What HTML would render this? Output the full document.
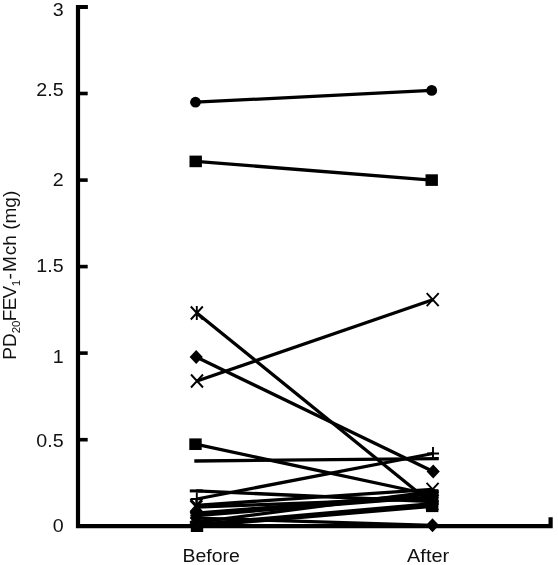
<!DOCTYPE html>
<html><head><meta charset="utf-8"><title>PD20FEV1-Mch before and after</title>
<style>
html,body{margin:0;padding:0;background:#fff}
svg{display:block}
text{font-family:"Liberation Sans",sans-serif;font-size:18.3px;fill:#111}
</style></head><body>
<svg width="558" height="565" viewBox="0 0 558 565">
<rect width="558" height="565" fill="#fff"/>
<g stroke="#000" stroke-width="4.2" fill="none">
<path d="M87.7 7H78V526.2H550.6V517.3" stroke-linejoin="miter"/>
</g>
<g stroke="#000" stroke-width="3.6"><line x1="78" y1="439.7" x2="87.7" y2="439.7"/><line x1="78" y1="353.1" x2="87.7" y2="353.1"/><line x1="78" y1="266.6" x2="87.7" y2="266.6"/><line x1="78" y1="180.1" x2="87.7" y2="180.1"/><line x1="78" y1="93.5" x2="87.7" y2="93.5"/><line x1="78" y1="7.0" x2="87.7" y2="7.0"/></g>
<g stroke="#000" stroke-width="3.3" stroke-linecap="butt">
<line x1="195.5" y1="102.2" x2="431.7" y2="90.4"/>
<line x1="195.7" y1="161.4" x2="431.7" y2="180.1"/>
<line x1="196.8" y1="313.0" x2="432.2" y2="503.7"/>
<line x1="196.2" y1="356.9" x2="433.2" y2="471.5"/>
<line x1="197.0" y1="381.0" x2="432.7" y2="299.7"/>
<line x1="195.5" y1="444.2" x2="432.2" y2="495.0"/>
<line x1="194.3" y1="461.0" x2="438.8" y2="458.7"/>
<line x1="196.3" y1="490.9" x2="432.2" y2="501.5"/>
<line x1="196.8" y1="499.0" x2="433.0" y2="453.5"/>
<line x1="196.3" y1="505.3" x2="432.6" y2="489.3"/>
<line x1="196.3" y1="507.0" x2="432.2" y2="498.5"/>
<line x1="196.3" y1="513.2" x2="432.2" y2="494.2"/>
<line x1="196.3" y1="515.5" x2="432.2" y2="496.8"/>
<line x1="196.3" y1="518.1" x2="432.5" y2="525.3"/>
<line x1="196.3" y1="522.4" x2="432.2" y2="491.6"/>
<line x1="196.3" y1="524.5" x2="432.2" y2="503.7"/>
<line x1="197.0" y1="526.2" x2="432.2" y2="506.3"/>
</g>
<g fill="#000">
<circle cx="195.5" cy="102.2" r="5.4"/>
<circle cx="431.7" cy="90.4" r="5.4"/>
<rect x="189.5" y="155.6" width="12.4" height="11.6"/>
<rect x="425.5" y="174.3" width="12.4" height="11.6"/>
<path stroke="#000" stroke-width="1.9" fill="none" d="M190.8 306.5L202.8 319.5M202.8 306.5L190.8 319.5M196.8 306.0L196.8 320.0"/>
<path stroke="#000" stroke-width="1.9" fill="none" d="M426.2 497.2L438.2 510.2M438.2 497.2L426.2 510.2M432.2 496.7L432.2 510.7"/>
<path d="M196.2 349.9L202.8 356.9L196.2 363.9L189.6 356.9Z"/>
<path d="M433.2 464.5L439.8 471.5L433.2 478.5L426.6 471.5Z"/>
<path stroke="#000" stroke-width="1.9" fill="none" d="M191.0 374.5L203.0 387.5M203.0 374.5L191.0 387.5"/>
<path stroke="#000" stroke-width="1.9" fill="none" d="M426.7 293.2L438.7 306.2M438.7 293.2L426.7 306.2"/>
<rect x="189.3" y="438.4" width="12.4" height="11.6"/>
<rect x="426.0" y="489.2" width="12.4" height="11.6"/>
<path stroke="#000" stroke-width="3" fill="none" d="M189.8 490.9L202.8 490.9"/>
<path stroke="#000" stroke-width="3" fill="none" d="M425.7 501.5L438.7 501.5"/>
<path stroke="#000" stroke-width="1.9" fill="none" d="M190.8 499.0L202.8 499.0M196.8 492.5L196.8 505.5"/>
<path stroke="#000" stroke-width="1.9" fill="none" d="M427.0 453.5L439.0 453.5M433.0 447.0L433.0 460.0"/>
<path stroke="#000" stroke-width="1.9" fill="none" d="M190.3 498.8L202.3 511.8M202.3 498.8L190.3 511.8"/>
<path stroke="#000" stroke-width="1.9" fill="none" d="M426.6 482.8L438.6 495.8M438.6 482.8L426.6 495.8"/>
<path stroke="#000" stroke-width="1.9" fill="none" d="M190.3 500.5L202.3 513.5M202.3 500.5L190.3 513.5M196.3 500.0L196.3 514.0"/>
<path stroke="#000" stroke-width="1.9" fill="none" d="M426.2 492.0L438.2 505.0M438.2 492.0L426.2 505.0M432.2 491.5L432.2 505.5"/>
<circle cx="196.3" cy="513.2" r="5.4"/>
<circle cx="432.2" cy="494.2" r="5.4"/>
<path stroke="#000" stroke-width="1.9" fill="none" d="M190.3 515.5L202.3 515.5M196.3 509.0L196.3 522.0"/>
<path stroke="#000" stroke-width="1.9" fill="none" d="M426.2 496.8L438.2 496.8M432.2 490.3L432.2 503.3"/>
<path d="M196.3 511.1L202.9 518.1L196.3 525.1L189.7 518.1Z"/>
<path d="M432.5 518.3L439.1 525.3L432.5 532.3L425.9 525.3Z"/>
<path stroke="#000" stroke-width="3" fill="none" d="M189.8 522.4L202.8 522.4"/>
<path stroke="#000" stroke-width="3" fill="none" d="M425.7 491.6L438.7 491.6"/>
<path d="M196.3 517.5L202.9 524.5L196.3 531.5L189.7 524.5Z"/>
<path d="M432.2 496.7L438.8 503.7L432.2 510.7L425.6 503.7Z"/>
<rect x="190.8" y="520.4" width="12.4" height="11.6"/>
<rect x="426.0" y="500.5" width="12.4" height="11.6"/>
</g>
<g><text transform="translate(63.7 16.4) scale(1.075 1)" text-anchor="end">3</text><text transform="translate(63.7 96.1) scale(1.075 1)" text-anchor="end">2.5</text><text transform="translate(63.7 186.2) scale(1.075 1)" text-anchor="end">2</text><text transform="translate(63.7 272.0) scale(1.075 1)" text-anchor="end">1.5</text><text transform="translate(63.7 362.7) scale(1.075 1)" text-anchor="end">1</text><text transform="translate(63.7 447.4) scale(1.075 1)" text-anchor="end">0.5</text><text transform="translate(63.7 531.8) scale(1.075 1)" text-anchor="end">0</text></g>
<text transform="translate(211.2 562.0) scale(1.065 1)" text-anchor="middle" id="before">Before</text>
<text transform="translate(428.1 562.4) scale(1.09 1)" text-anchor="middle" id="after">After</text>
<text id="ylab" transform="translate(16.4 359.8) rotate(-90) scale(1.04 1)">PD<tspan font-size="11px" dy="3.5">20</tspan><tspan dy="-3.5" dx="-0.5">F</tspan><tspan dx="-0.8">E</tspan><tspan dx="-0.9">V</tspan><tspan font-size="11px" dy="3.5" dx="-0.2">1</tspan><tspan dy="-3.5" dx="0.3">-</tspan><tspan dx="1">M</tspan><tspan dx="1">c</tspan>h (mg)</text>
</svg>
</body></html>
